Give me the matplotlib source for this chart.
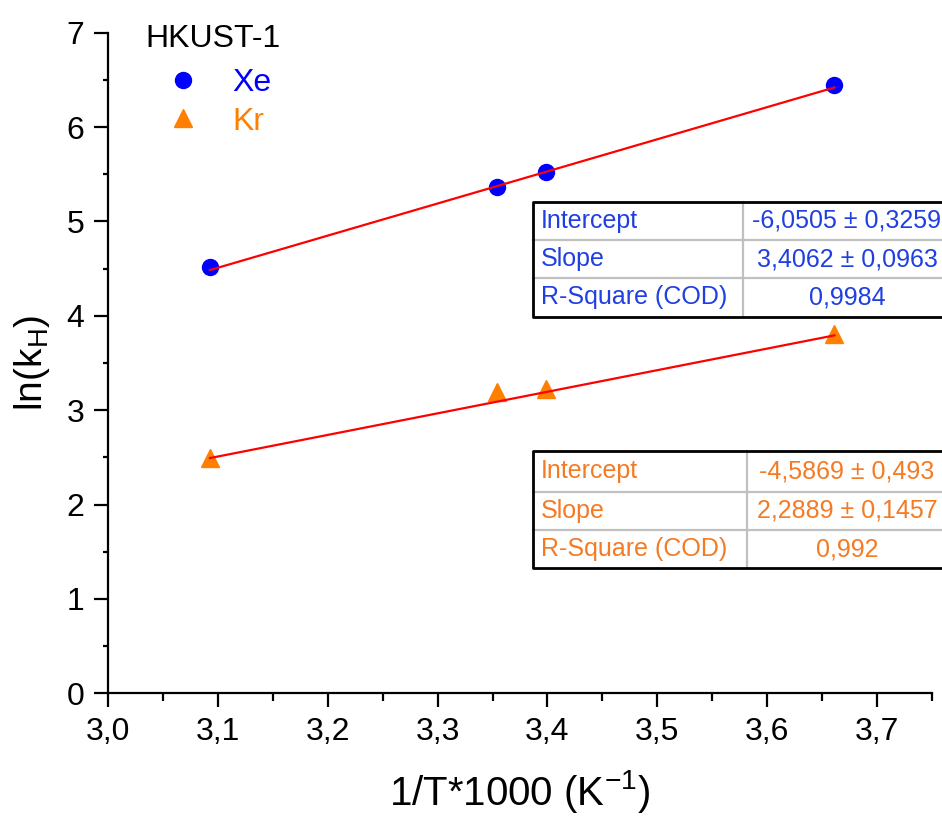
import numpy as np
import matplotlib
matplotlib.use('Agg')
import matplotlib.pyplot as plt
from matplotlib.lines import Line2D
from matplotlib.ticker import MultipleLocator, FuncFormatter

plt.rcParams['font.family'] = ['Liberation Sans', 'DejaVu Sans']
plt.rcParams['mathtext.fontset'] = 'custom'
plt.rcParams['mathtext.rm'] = 'Liberation Sans'
plt.rcParams['mathtext.it'] = 'Liberation Sans:italic'
plt.rcParams['mathtext.default'] = 'regular'

# data
inv_T = [3.093, 3.354, 3.399, 3.661]
ln_kh_xe = [4.52, 5.37, 5.52, 6.45]
ln_kh_kr = [2.49, 3.19, 3.22, 3.81]

# linear fit results
xe_intercept, xe_slope = -6.0505, 3.4062
kr_intercept, kr_slope = -4.5869, 2.2889

table_labels = ["Intercept", "Slope", "R-Square (COD)"]
table_xe = ["-6,0505 ± 0,3259", "3,4062 ± 0,0963", "0,9984"]
table_kr = ["-4,5869 ± 0,493", "2,2889 ± 0,1457", "0,992"]

W, H = 942, 816
fig = plt.figure(figsize=(W / 100, H / 100), dpi=100)
ax = fig.add_axes([107.7 / W, 1 - 693.3 / H, (932.3 - 107.7) / W, (693.3 - 32.7) / H])

# scatter points
ax.plot(inv_T, ln_kh_xe, 'o', color='#0000ff', markersize=11.5, label='Xe', zorder=3)
ax.plot(inv_T, ln_kh_kr, '^', color='#ff8000', markersize=13, label='Kr', zorder=3)

# fit lines drawn over the range of the data
x_fit = np.array([min(inv_T), max(inv_T)])
ax.plot(x_fit, xe_intercept + xe_slope * x_fit, color='#ff0000', lw=1.6, zorder=4)
ax.plot(x_fit, kr_intercept + kr_slope * x_fit, color='#ff0000', lw=1.6, zorder=4)

ax.set_xlim(3.0, 3.75)
ax.set_ylim(0, 7)
for s in ['top', 'right']:
    ax.spines[s].set_visible(False)
for s in ['left', 'bottom']:
    ax.spines[s].set_linewidth(1.6)

ax.xaxis.set_major_locator(MultipleLocator(0.1))
ax.xaxis.set_minor_locator(MultipleLocator(0.05))
ax.yaxis.set_major_locator(MultipleLocator(1))
ax.yaxis.set_minor_locator(MultipleLocator(0.5))
ax.xaxis.set_major_formatter(FuncFormatter(lambda v, p: f"{v:.1f}".replace('.', ',')))
ax.yaxis.set_major_formatter(FuncFormatter(lambda v, p: f"{v:.0f}"))
ax.tick_params(which='major', direction='out', length=10, width=1.6, labelsize=23, pad=7)
ax.tick_params(axis='x', which='minor', direction='out', length=5.5, width=1.6)
ax.tick_params(axis='y', which='minor', direction='out', length=3.5, width=1.6)

ax.set_xlabel("1/T*1000 (K$^{-1}$)", fontsize=29, labelpad=15)
ax.set_ylabel("ln(k$_{H}$)", fontsize=28, labelpad=10)

# legend with title
leg = ax.legend(title="HKUST-1", loc='upper left', bbox_to_anchor=(145 / W, 1 - 24 / H),
                bbox_transform=fig.transFigure, frameon=False, fontsize=23, title_fontsize=23,
                handlelength=2.38, handletextpad=0.35, labelspacing=0.27, borderpad=0,
                borderaxespad=0, labelcolor='markerfacecolor', alignment='left')
leg._legend_box.sep = 10


def px(x, y):
    return x / W, 1 - y / H


def draw_table(top, row_lines, bottom, col_x, values, color):
    left, right = 533.3, 970
    # inner grey lines
    for y in row_lines:
        fig.add_artist(Line2D(*zip(px(left, y), px(right, y)), color='#c0c0c0', lw=1.6))
    fig.add_artist(Line2D(*zip(px(col_x, top), px(col_x, bottom)), color='#c0c0c0', lw=1.6))
    # outer black border
    fig.add_artist(Line2D(*zip(px(right, top), px(left, top), px(left, bottom), px(right, bottom)),
                          color='black', lw=2.0))
    edges = [top] + list(row_lines) + [bottom]
    for i in range(3):
        yc = (edges[i] + edges[i + 1]) / 2
        fig.text(*px(541, yc), table_labels[i], color=color, fontsize=18, ha='left', va='center')
        fig.text(*px(847, yc), values[i], color=color, fontsize=18, ha='center', va='center')


draw_table(201.7, [240, 278.3], 316.7, 743.3, table_xe, '#1f3fe0')
draw_table(450.7, [491.7, 530], 568.3, 746.7, table_kr, '#f57a24')

fig.savefig('out.png', dpi=100)
